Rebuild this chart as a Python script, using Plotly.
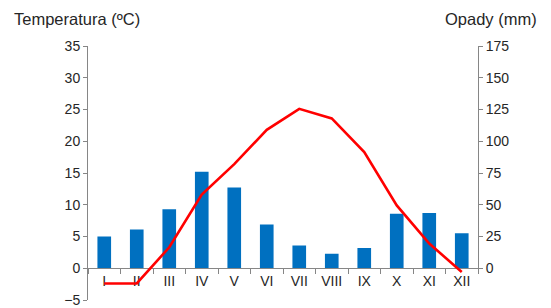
import plotly.graph_objects as go

months = ["I", "II", "III", "IV", "V", "VI", "VII", "VIII", "IX", "X", "XI", "XII"]
temperature = [-2.4, -2.4, 3.3, 11.6, 16.4, 21.8, 25.1, 23.6, 18.3, 9.9, 3.9, -0.6]
precipitation = [25, 30.5, 46.5, 76, 63.5, 34.5, 18, 11.5, 16, 43, 43.5, 27.5]

left_ticks = [-5, 0, 5, 10, 15, 20, 25, 30, 35]
right_ticks = [0, 25, 50, 75, 100, 125, 150, 175]

FONT = "Liberation Sans, Arial, sans-serif"
TXT = "#262626"
AX = "#868686"

fig = go.Figure()
# bars on right axis (yaxis, domain starting at temperature 0), drawn first
fig.add_trace(go.Bar(x=months, y=precipitation, xaxis="x", yaxis="y", marker_color="#0070C0",
                     marker_line_width=0, width=0.42, name="Opady"))
# temperature on left axis (yaxis2, full domain), drawn on top
fig.add_trace(go.Scatter(x=months, y=temperature, xaxis="x", yaxis="y2", mode="lines",
                         line=dict(color="#FF0000", width=2.6), name="Temperatura"))

zero_frac = 5 / 40.0
fig.update_layout(
    width=551, height=308,
    margin=dict(l=88, r=73, t=46, b=8, autoexpand=False),
    paper_bgcolor="white", plot_bgcolor="rgba(0,0,0,0)",
    showlegend=False,
    font=dict(family=FONT, size=14, color=TXT),
    xaxis=dict(type="category", range=[-0.5, 11.5], anchor="y", automargin=False,
               showline=True, linecolor=AX, linewidth=1,
               ticks="outside", ticklen=5, tickcolor=AX, tickson="boundaries",
               showgrid=False, zeroline=False, tickfont=dict(size=14, color=TXT)),
    yaxis=dict(range=[0, 175], tickvals=right_ticks, domain=[zero_frac, 1], anchor="x",
               side="right", automargin=False, showline=True, linecolor=AX, linewidth=1,
               ticks="outside", ticklen=4, tickcolor=AX,
               showgrid=False, zeroline=False, tickfont=dict(size=14, color=TXT)),
    yaxis2=dict(range=[-5, 35], tickvals=left_ticks, domain=[0, 1], anchor="x",
                side="left", automargin=False, showline=True, linecolor=AX, linewidth=1,
                ticks="outside", ticklen=4, tickcolor=AX,
                showgrid=False, zeroline=False, tickfont=dict(size=14, color=TXT)),
    annotations=[
        dict(text="Temperatura (ºC)", xref="paper", yref="paper", x=-76/390, y=1,
             xanchor="left", yanchor="bottom", yshift=16, showarrow=False,
             font=dict(size=16.5, color=TXT)),
        dict(text="Opady (mm)", xref="paper", yref="paper", x=1 + 61/390, y=1,
             xanchor="right", yanchor="bottom", yshift=16, showarrow=False,
             font=dict(size=16.5, color=TXT)),
    ],
)

fig.write_html("out.html", config={"displayModeBar": False, "staticPlot": True},
               post_script="document.body.style.margin='0';document.body.style.overflow='hidden';")
